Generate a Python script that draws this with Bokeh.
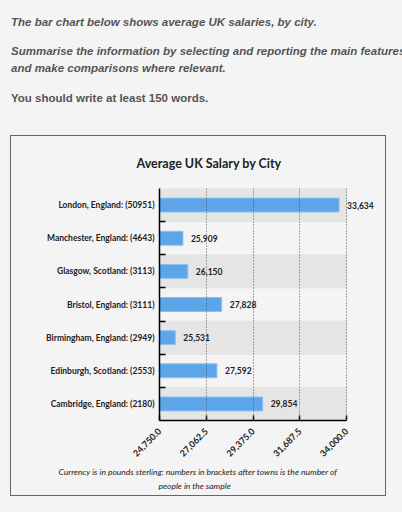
from math import pi
from bokeh.plotting import figure
from bokeh.layouts import column
from bokeh.models import (FixedTicker, NumeralTickFormatter, Range1d, LabelSet,
                          ColumnDataSource, Title, Div)
from bokeh.core.properties import value
from bokeh.embed import file_html
from bokeh.resources import INLINE

cities = ["London, England: (50951)", "Manchester, England: (4643)", "Glasgow, Scotland: (3113)",
          "Bristol, England: (3111)", "Birmingham, England: (2949)", "Edinburgh, Scotland: (2553)",
          "Cambridge, England: (2180)"]
salaries = [33634, 25909, 26150, 27828, 25531, 27592, 29854]
x_ticks = [24750.0, 27062.5, 29375.0, 31687.5, 34000.0]
note = ["Currency is in pounds sterling: numbers in brackets after towns is the number of",
        "people in the sample"]

BG = "#f4f4f4"
PW, PH = 376, 361
FL, FR, FT, FB = 148, 374, 51, 284   # frame edges inside the chart box

# x range reaches past 34,000 so the value label of the longest bar stays visible
per_px = (x_ticks[-1] - x_ticks[0]) / 187.0
x_end = x_ticks[0] + (FR - FL) * per_px

p = figure(width=PW, height=PH, output_backend="svg", toolbar_location=None,
           x_range=Range1d(x_ticks[0], x_end), y_range=Range1d(0, len(cities)),
           min_border_left=FL, min_border_right=PW - FR, min_border_top=FT, min_border_bottom=PH - FB,
           styles={"border": "1.5px solid #666"})
p.margin = (0, 0, 0, 10)
p.background_fill_color = BG
p.border_fill_color = BG
p.outline_line_color = None

p.title.text = "Average UK Salary by City"
p.title.align = "left"
p.title.offset = -23
p.title.text_font = "Lato"
p.title.text_font_style = "bold"
p.title.text_font_size = "12.5px"
p.title.text_color = "#222"
p.title.standoff = 35

n = len(cities)
ypos = [n - i - 0.5 for i in range(n)]

band_y = [y for i, y in enumerate(ypos) if i % 2 == 0]
p.hbar(y=band_y, left=x_ticks[0], right=x_ticks[-1], height=1, color="#e5e5e5")

p.hbar(y=ypos, left=x_ticks[0], right=salaries, height=0.42,
       fill_color="#5ba5e8", line_color="#8cc2f2", line_width=1)

src = ColumnDataSource(dict(x=salaries, y=ypos, t=[f"{v:,}" for v in salaries]))
p.add_layout(LabelSet(x="x", y="y", text="t", source=src, x_offset=8,
                      text_baseline="middle", text_font=value("Lato"), text_font_style="bold",
                      text_font_size="8.5px", text_color="#222"))

p.xaxis.bounds = (x_ticks[0], x_ticks[-1])
p.xaxis.ticker = FixedTicker(ticks=x_ticks)
p.xaxis.formatter = NumeralTickFormatter(format="0,0.0")
p.xaxis.major_label_orientation = pi / 4
p.xaxis.major_label_standoff = 9
p.xaxis.major_tick_in = 5
p.xaxis.major_tick_out = 0
p.xaxis.minor_tick_line_color = None
p.xaxis.axis_line_width = 1.5
p.xaxis.major_tick_line_width = 1.5
p.xaxis.major_label_text_font = "Lato"
p.xaxis.major_label_text_font_style = "bold"
p.xaxis.major_label_text_font_size = "9px"
p.xaxis.major_label_text_color = "#222"

p.yaxis.ticker = FixedTicker(ticks=ypos, minor_ticks=list(range(1, n)))
p.yaxis.major_label_overrides = {y: c for y, c in zip(ypos, cities)}
p.yaxis.major_tick_in = 0
p.yaxis.major_tick_out = 0
p.yaxis.minor_tick_in = 6
p.yaxis.minor_tick_out = 0
p.yaxis.minor_tick_line_width = 1.5
p.yaxis.minor_tick_line_color = "black"
p.yaxis.axis_line_width = 1.5
p.yaxis.major_label_standoff = 5
p.yaxis.major_label_text_font = "Lato"
p.yaxis.major_label_text_font_style = "bold"
p.yaxis.major_label_text_font_size = "8.5px"
p.yaxis.major_label_text_color = "#222"

p.ygrid.grid_line_color = None
p.xgrid.ticker = FixedTicker(ticks=x_ticks)
p.xgrid.grid_line_color = "#555"
p.xgrid.grid_line_dash = "1 2"
p.xgrid.grid_line_width = 1
p.xgrid.level = "overlay"

for txt, off, so in zip(note, [-101, -1], [4, 0]):
    p.add_layout(Title(text=txt, align="left", offset=off, text_font="Lato",
                       text_font_style="italic", text_font_size="8.5px", text_color="#222",
                       text_line_height=0.5, standoff=so), "below")

intro = """
<div style="font-family:'Liberation Sans';font-weight:bold;font-size:11.5px;color:#555;
            padding:14px 0 0 11px;line-height:17px;">
  <div style="font-style:italic;">The bar chart below shows average UK salaries, by city.</div>
  <div style="font-style:italic;margin-top:12px;white-space:nowrap;">Summarise the information by selecting and reporting the main features</div>
  <div style="font-style:italic;">and make comparisons where relevant.</div>
  <div style="margin-top:12.5px;">You should write at least 150 words.</div>
</div>
"""
div = Div(text=intro, width=402, height=135, margin=0)

page = column(div, p, width=402, height=512, spacing=0,
              styles={"background-color": BG, "overflow": "hidden"})

open("out.html", "w").write(file_html(page, INLINE))
